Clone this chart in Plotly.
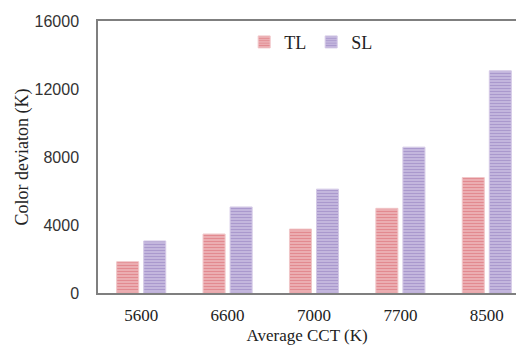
import plotly.graph_objects as go

categories = ["5600", "6600", "7000", "7700", "8500"]
tl_values = [1840, 3470, 3760, 4980, 6790]
sl_values = [3060, 5060, 6110, 8580, 13070]
y_ticks = [0, 4000, 8000, 12000, 16000]

pos = list(range(len(categories)))
serif = "Liberation Serif"

fig = go.Figure()
fig.add_trace(go.Bar(
    x=pos, y=tl_values, name="TL", width=0.255, offset=-0.284,
    marker=dict(color="#eab0b3", line=dict(color="#f0c6c8", width=1),
                pattern=dict(shape="-", fgcolor="#d65c66", bgcolor="#eeb8bb",
                             size=3, solidity=0.5)),
))
fig.add_trace(go.Bar(
    x=pos, y=sl_values, name="SL", width=0.255, offset=0.029,
    marker=dict(color="#c2b4dc", line=dict(color="#d4c9e6", width=1),
                pattern=dict(shape="-", fgcolor="#8a74b8", bgcolor="#cbbfe2",
                             size=3, solidity=0.5)),
))

fig.update_layout(
    width=516, height=345,
    margin=dict(l=98, r=0, t=21, b=52),
    plot_bgcolor="white", paper_bgcolor="white",
    showlegend=True,
    legend=dict(orientation="h", x=0.51, xanchor="center", y=0.99, yanchor="top",
                font=dict(family=serif, size=18, color="#222"),
                itemwidth=30, tracegroupgap=0, bgcolor="rgba(0,0,0,0)"),
    bargap=0.4,
)
fig.update_xaxes(
    range=[-0.5, 4.338], tickmode="array", tickvals=pos, ticktext=categories,
    showline=True, linecolor="#7f7f7f", linewidth=1.5, mirror=True,
    ticks="", showgrid=False, zeroline=False, ticklabelstandoff=6,
    tickfont=dict(family=serif, size=17, color="#222"),
    title=dict(text="Average CCT (K)", font=dict(family=serif, size=17, color="#222"),
               standoff=8),
)
fig.update_yaxes(
    range=[0, 16000], tickmode="array", tickvals=y_ticks,
    ticktext=[str(v) for v in y_ticks],
    showline=True, linecolor="#7f7f7f", linewidth=1.5,
    ticks="", ticklabelstandoff=14,
    showgrid=False, zeroline=False,
    tickfont=dict(family="Liberation Sans", size=16, color="#333"),
    title=dict(text="Color deviaton (K)", font=dict(family=serif, size=18, color="#222"),
               standoff=1),
)
fig.write_html("out.html")
